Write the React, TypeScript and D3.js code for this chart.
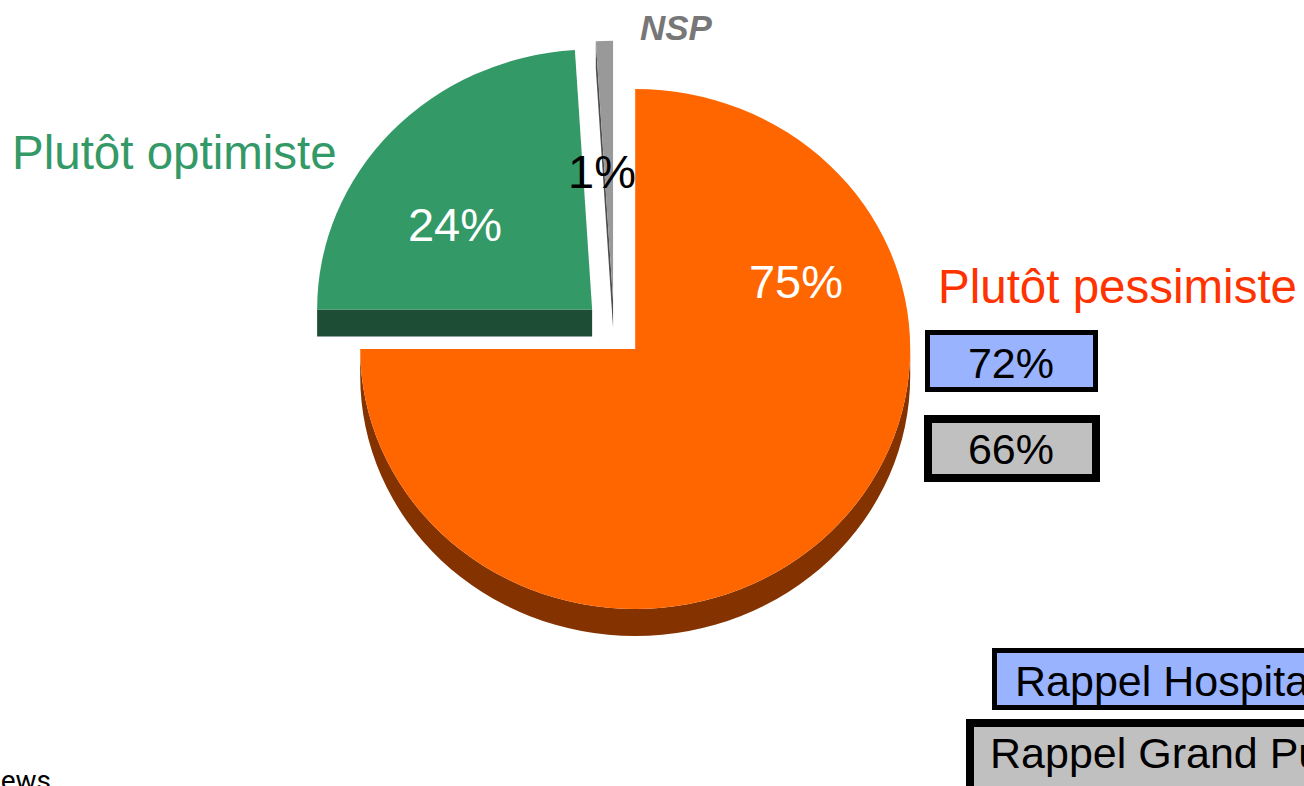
import React from "react";
import * as d3 from "d3";

// survey answers
const categories = ["Plutôt pessimiste", "Plutôt optimiste", "NSP"];
const shares = [75, 24, 1];
// reminder boxes
const recallNames = ["Rappel Hospitalier", "Rappel Grand Public"];
const recallPessimist = [72, 66];

const W = 1304;
const H = 786;
const FONT = "'Liberation Sans', Arial, sans-serif";

// pie geometry (tilted, exploded)
const cx = 614;
const cy = 329;
const rx = 275;
const ry = 260;
const depth = 27;
const explode = 30;
const k = ry / rx;

const topColors = ["#FF6600", "#339966", "#999999"];
const wallColors = ["#843300", "#1D4D35", "#4D4D4D"];
const valueColors = ["#FFFFFF", "#FFFFFF", "#000000"];
// where the value labels sit (screen coords)
const valuePos = [
  [796, 298],
  [455, 241],
  [602, 188],
];

const recallFill = ["#99B3FF", "#C0C0C0"];

const App = () => {
  const pie = d3
    .pie<number>()
    .sort(null)
    .startAngle(0)
    .endAngle(2 * Math.PI);
  const arcs = pie(shares);

  const arc = d3.arc<d3.PieArcDatum<number>>().innerRadius(0).outerRadius(rx);
  const dd = depth / k; // depth in unscaled (circle) units

  const slices = arcs.map((a, i) => {
    const mid = (a.startAngle + a.endAngle) / 2;
    const ox = cx + explode * Math.sin(mid);
    const oy = cy - explode * k * Math.cos(mid);

    const walls: string[] = [];

    // outer wall, only the front half (90deg..270deg)
    const b0 = Math.max(a.startAngle, Math.PI / 2);
    const b1 = Math.min(a.endAngle, (3 * Math.PI) / 2);
    if (b1 > b0) {
      const p = d3.path();
      p.arc(0, 0, rx, b0 - Math.PI / 2, b1 - Math.PI / 2, false);
      p.lineTo(rx * Math.sin(b1), -rx * Math.cos(b1) + dd);
      p.arc(0, dd, rx, b1 - Math.PI / 2, b0 - Math.PI / 2, true);
      p.closePath();
      walls.push(p.toString());
    }

    // radial walls, when they face the viewer
    const px = Math.sin(mid);
    const py = -Math.cos(mid);
    [a.startAngle, a.endAngle].forEach((t) => {
      const ex = rx * Math.sin(t);
      const ey = -rx * Math.cos(t);
      if (Math.abs(ex) < 0.5) return;
      const side = ex * py - ey * px;
      if (Math.sign(ex) !== Math.sign(side)) {
        const p = d3.path();
        p.moveTo(0, 0);
        p.lineTo(ex, ey);
        p.lineTo(ex, ey + dd);
        p.lineTo(0, dd);
        p.closePath();
        walls.push(p.toString());
      }
    });

    return (
      <g key={categories[i]} transform={`translate(${ox},${oy}) scale(1,${k})`}>
        {walls.map((d, j) => (
          <path key={j} d={d} fill={wallColors[i]} />
        ))}
        <path d={arc(a) || ""} fill={topColors[i]} />
      </g>
    );
  });

  return (
    <svg
      width={W}
      height={H}
      style={{ position: "absolute", left: 0, top: 0, background: "#fff" }}
      fontFamily={FONT}
    >
      {slices}

      {arcs.map((a, i) => (
        <text
          key={"v" + i}
          x={valuePos[i][0]}
          y={valuePos[i][1]}
          textAnchor="middle"
          fontSize={47}
          fill={valueColors[i]}
        >
          {a.data + "%"}
        </text>
      ))}

      <text x={938} y={303} fontSize={47.5} fill="#FF3300">
        {categories[0]}
      </text>
      <text x={12} y={169} fontSize={47.5} fill="#339966">
        {categories[1]}
      </text>
      <text x={640} y={40} fontSize={35} fontWeight="bold" fontStyle="italic" fill="#777777">
        {categories[2]}
      </text>

      {/* reminder values next to the pessimist label */}
      <rect x={927.5} y={332.5} width={168} height={57} fill={recallFill[0]} stroke="#000" strokeWidth={5} />
      <text x={1011} y={378} textAnchor="middle" fontSize={43} fill="#000">
        {recallPessimist[0] + "%"}
      </text>
      <rect x={928} y={419} width={168} height={59} fill={recallFill[1]} stroke="#000" strokeWidth={8} />
      <text x={1011} y={464} textAnchor="middle" fontSize={43} fill="#000">
        {recallPessimist[1] + "%"}
      </text>

      {/* legend */}
      <rect x={994.5} y={650.5} width={400} height={57} fill={recallFill[0]} stroke="#000" strokeWidth={5} />
      <text x={1015} y={696} fontSize={43} fill="#000">
        {recallNames[0]}
      </text>
      <rect x={970} y={723} width={420} height={80} fill={recallFill[1]} stroke="#000" strokeWidth={8} />
      <text x={990} y={768} fontSize={43} fill="#000">
        {recallNames[1]}
      </text>

      <text x={51} y={790} textAnchor="end" fontSize={28} fill="#000" fontFamily="Roboto, sans-serif">
        Interviews
      </text>
    </svg>
  );
};

export default App;
